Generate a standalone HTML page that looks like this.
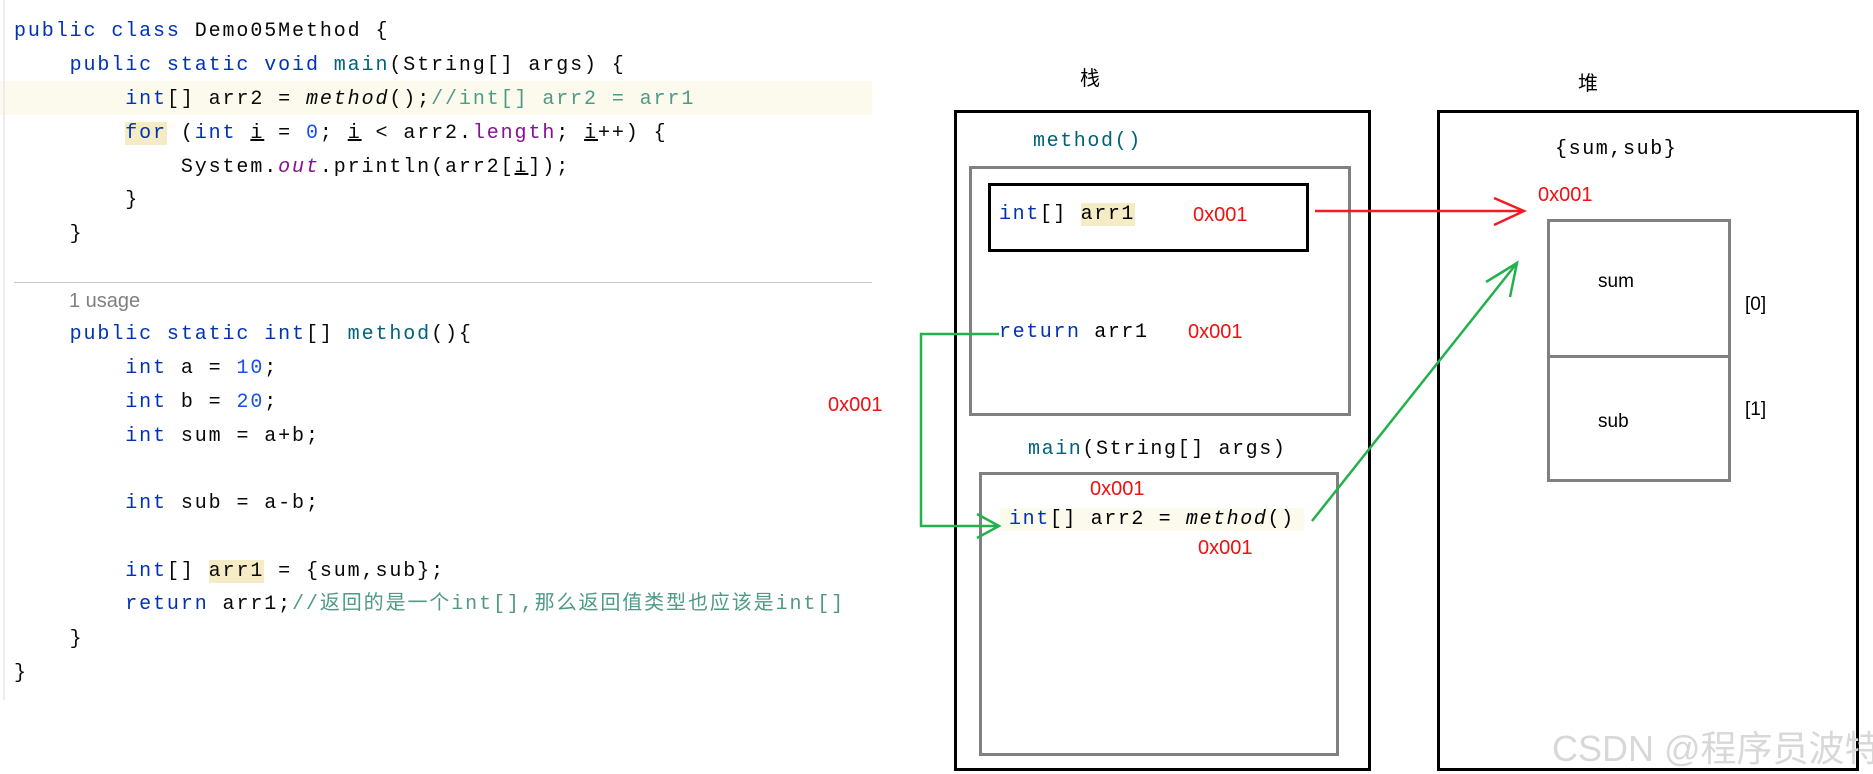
<!DOCTYPE html>
<html><head><meta charset="utf-8">
<style>
body{margin:0;width:1873px;height:774px;background:#fff;position:relative;overflow:hidden;font-family:"Liberation Sans","Noto Sans CJK SC",sans-serif}
.c{position:absolute;left:14px;height:34px;line-height:34px;font-family:"Liberation Mono","Noto Sans CJK SC",monospace;font-size:20px;letter-spacing:1.9px;color:#080808;white-space:pre}
.k{color:#0033b3}.m{color:#00627a}.n{color:#1750eb}.cm{color:#4f9a87}.p{color:#871094}
.a{position:absolute;white-space:pre}
.mono{font-family:"Liberation Mono","Noto Sans CJK SC",monospace;font-size:20px;letter-spacing:1.6px}
.r{color:#f01010;font-size:20px;font-family:"Liberation Sans",sans-serif}
.box{position:absolute;box-sizing:border-box}
</style></head><body>
<div class="box" style="left:0;top:81px;width:872px;height:34px;background:#fcfaed"></div>
<div class="box" style="left:14px;top:282px;width:858px;height:1px;background:#c8c8c8"></div>
<div class="box" style="left:3px;top:0;width:2px;height:700px;background:#ececec"></div>

<div class="c" style="top:15px"><span class="k">public class</span> Demo05Method {</div>
<div class="c" style="top:49px">    <span class="k">public static void</span> <span class="m">main</span>(String[] args) {</div>
<div class="c" style="top:83px">        <span class="k">int</span>[] arr2 = <i>method</i>();<span class="cm">//int[] arr2 = arr1</span></div>
<div class="c" style="top:117px">        <span class="k" style="background:#f5ebc5">for</span> (<span class="k">int</span> <u>i</u> = <span class="n">0</span>; <u>i</u> &lt; arr2.<span class="p">length</span>; <u>i</u>++) {</div>
<div class="c" style="top:151px">            System.<i class="p">out</i>.println(arr2[<u>i</u>]);</div>
<div class="c" style="top:184px">        }</div>
<div class="c" style="top:218px">    }</div>
<div class="a" style="left:69px;top:284px;font-size:20px;color:#808080;line-height:34px">1 usage</div>
<div class="c" style="top:318px">    <span class="k">public static int</span>[] <span class="m">method</span>(){</div>
<div class="c" style="top:352px">        <span class="k">int</span> a = <span class="n">10</span>;</div>
<div class="c" style="top:386px">        <span class="k">int</span> b = <span class="n">20</span>;</div>
<div class="c" style="top:420px">        <span class="k">int</span> sum = a+b;</div>
<div class="c" style="top:487px">        <span class="k">int</span> sub = a-b;</div>
<div class="c" style="top:555px">        <span class="k">int</span>[] <span style="background:#f5ebc5">arr1</span> = {sum,sub};</div>
<div class="c" style="top:588px">        <span class="k">return</span> arr1;<span class="cm">//返回的是一个int[],那么返回值类型也应该是int[]</span></div>
<div class="c" style="top:623px">    }</div>
<div class="c" style="top:657px">}</div>

<div class="a" style="left:1080px;top:62px;font-size:20px">栈</div>
<div class="a" style="left:1578px;top:67px;font-size:20px">堆</div>

<div class="box" style="left:954px;top:110px;width:417px;height:661px;border:3px solid #000"></div>
<div class="box" style="left:1437px;top:110px;width:422px;height:661px;border:3px solid #000"></div>

<div class="a mono" style="left:1033px;top:130px;color:#00627a">method()</div>
<div class="box" style="left:969px;top:166px;width:382px;height:250px;border:3px solid #808080"></div>
<div class="box" style="left:988px;top:183px;width:321px;height:69px;border:3px solid #000"></div>
<div class="a mono" style="left:999px;top:203px"><span class="k">int</span>[] <span style="background:#f5ebc5">arr1</span></div>
<div class="a r" style="left:1193px;top:204px">0x001</div>
<div class="a mono" style="left:999px;top:321px"><span class="k">return</span> arr1</div>
<div class="a r" style="left:1188px;top:321px">0x001</div>

<div class="a mono" style="left:1028px;top:438px;color:#00627a">main<span style="color:#080808">(String[] args)</span></div>
<div class="box" style="left:979px;top:472px;width:360px;height:284px;border:3px solid #808080"></div>
<div class="a r" style="left:1090px;top:478px">0x001</div>
<div class="a mono" style="left:1000px;top:508px;background:#fcfaed;padding:0 9px"><span class="k">int</span>[] arr2 = <i>method</i>()</div>
<div class="a r" style="left:1198px;top:537px">0x001</div>
<div class="a r" style="left:828px;top:394px">0x001</div>

<div class="a mono" style="left:1555px;top:138px">{sum,sub}</div>
<div class="a r" style="left:1538px;top:184px">0x001</div>
<div class="box" style="left:1547px;top:219px;width:184px;height:263px;border:3px solid #808080"></div>
<div class="box" style="left:1547px;top:355px;width:184px;height:3px;background:#808080"></div>
<div class="a" style="left:1598px;top:271px;font-size:19px">sum</div>
<div class="a" style="left:1598px;top:411px;font-size:19px">sub</div>
<div class="a" style="left:1745px;top:294px;font-size:19px">[0]</div>
<div class="a" style="left:1745px;top:399px;font-size:19px">[1]</div>

<svg width="1873" height="774" style="position:absolute;left:0;top:0">
<g fill="none" stroke-width="2.5">
<path d="M1315 211 H1524 M1494 198 L1524 211 L1494 225" stroke="#ee1c24"/>
<path d="M999 334 H921 V526 H999 M977 514 L999 526 L977 538" stroke="#22b14c"/>
<path d="M1312 521 L1517 263 M1486 282 L1517 263 L1510 297" stroke="#22b14c"/>
</g>
</svg>
<div class="a" style="left:1552px;top:720px;font-size:36px;color:#d8d8d8;font-family:'Liberation Sans','Noto Sans CJK SC',sans-serif">CSDN @程序员波特</div>
</body></html>
